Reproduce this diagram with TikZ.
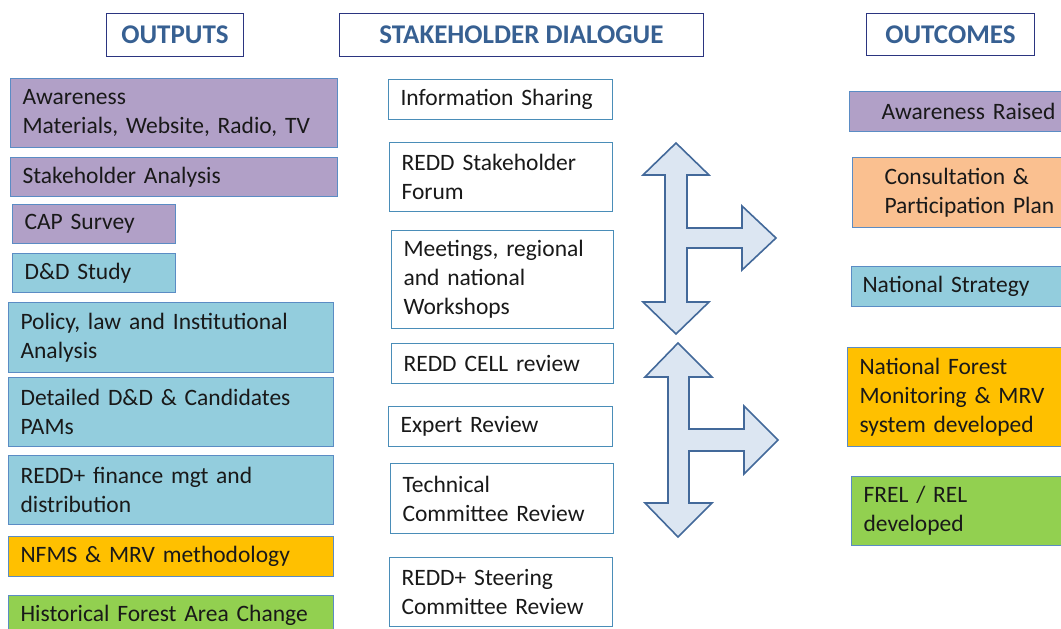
\documentclass[tikz,border=0pt]{standalone}
\usepackage{fontspec}
\setmainfont{Carlito}
\definecolor{hdrtext}{HTML}{376092}
\definecolor{hdrline}{HTML}{2B3580}
\definecolor{boxline}{HTML}{5B8CC4}
\definecolor{midline}{HTML}{4A8DB8}
\definecolor{purp}{HTML}{B1A0C7}
\definecolor{cyanbox}{HTML}{93CDDD}
\definecolor{orangebox}{HTML}{FFC000}
\definecolor{greenbox}{HTML}{92D050}
\definecolor{peachbox}{HTML}{FAC090}
\definecolor{arrfill}{HTML}{DCE6F2}
\definecolor{arrline}{HTML}{43699A}

\begin{document}
\begin{tikzpicture}[x=1pt,y=-1pt,
	hdr/.style={draw=hdrline, line width=0.8pt, text=hdrtext, anchor=north west, inner sep=0pt,
		font=\fontsize{27}{30}\selectfont\bfseries},
	cbox/.style={draw=boxline, line width=1.1pt, anchor=north west, align=left,
		inner xsep=12pt, inner ysep=0pt, text=black!90, font=\fontsize{23.5}{29}\selectfont},
	wbox/.style={cbox, draw=midline, fill=white},
	dlgarrow/.style={draw=arrline, fill=arrfill, line width=1.6pt, line join=miter}]
	\useasboundingbox (0,0) rectangle (1061,629);
	\clip (0,0) rectangle (1061,629);
	% headings
	\node[hdr, minimum width=137pt, minimum height=43pt] (outputs) at (106,13) {OUTPUTS};
	\node[hdr, minimum width=364pt, minimum height=43pt] (dialogue) at (339,13) {STAKEHOLDER DIALOGUE};
	\node[hdr, minimum width=168pt, minimum height=42pt] (outcomes) at (866,13) {OUTCOMES};
	% outputs
	\node[cbox, fill=purp, text width=303pt, minimum height=69pt] (aware) at (10,78) {Awareness\\Materials, Website, Radio,\ TV};
	\node[cbox, fill=purp, text width=303pt, minimum height=39pt] (stkan) at (10,157) {Stakeholder Analysis};
	\node[cbox, fill=purp, text width=139pt, minimum height=39pt] (cap) at (12,204) {CAP Survey};
	\node[cbox, fill=cyanbox, text width=139pt, minimum height=39pt] (ddstudy) at (12,253) {D\&D Study};
	\node[cbox, fill=cyanbox, text width=301pt, minimum height=70pt] (policy) at (8,302) {Policy, law and Institutional\\Analysis};
	\node[cbox, fill=cyanbox, text width=301pt, minimum height=69pt] (pams) at (8,377) {Detailed D\&D \& Candidates\\PAMs};
	\node[cbox, fill=cyanbox, text width=301pt, minimum height=69pt] (finance) at (8,455) {REDD+ finance mgt and\\distribution};
	\node[cbox, fill=orangebox, text width=301pt, minimum height=40pt] (nfms) at (8,536) {NFMS \& MRV methodology};
	\node[cbox, fill=greenbox, text width=301pt, minimum height=40pt] (hist) at (8,595) {Historical Forest Area Change};
	% stakeholder dialogue
	\node[wbox, text width=200pt, minimum height=40pt] (info) at (388,79) {Information Sharing};
	\node[wbox, text width=199pt, minimum height=69pt] (forum) at (389,142) {REDD Stakeholder\\Forum};
	\node[wbox, text width=198pt, minimum height=98pt] (meet) at (391,230) {Meetings, regional\\and national\\Workshops};
	\node[wbox, text width=198pt, minimum height=40pt] (cell) at (391,343) {REDD CELL review};
	\node[wbox, text width=200pt, minimum height=40pt] (expert) at (388,406) {Expert Review};
	\node[wbox, text width=199pt, minimum height=70pt] (tech) at (390,463) {Technical\\Committee Review};
	\node[wbox, text width=199pt, minimum height=69pt] (steer) at (389,557) {REDD+ Steering\\Committee Review};
	% outcomes
	\node[cbox, fill=purp, inner xsep=32pt, text width=196pt, minimum height=40pt] (raised) at (849,91) {Awareness Raised};
	\node[cbox, fill=peachbox, inner xsep=32pt, text width=196pt, minimum height=70pt] (consult) at (852,157) {Consultation \&\\Participation Plan};
	\node[cbox, fill=cyanbox, inner xsep=11pt, text width=238pt, minimum height=40pt] (natstrat) at (851,266) {National Strategy};
	\node[cbox, fill=orangebox, text width=236pt, minimum height=99pt] (nfm) at (847,347) {National Forest\\Monitoring \& MRV\\system developed};
	\node[cbox, fill=greenbox, text width=236pt, minimum height=69pt] (frel) at (851,476) {FREL / REL\\developed};
	% block arrows
	\draw[dlgarrow] (676,143) -- (709,175) -- (687,175) -- (687,228) -- (742,228) -- (742,206) -- (776,238)
		-- (742,270) -- (742,248) -- (687,248) -- (687,302) -- (709,302) -- (676,334) -- (643,302)
		-- (665,302) -- (665,175) -- (643,175) -- cycle;
	\draw[dlgarrow] (678,343) -- (712,377) -- (689,377) -- (689,429) -- (744,429) -- (744,406) -- (778,440)
		-- (744,474) -- (744,451) -- (689,451) -- (689,503) -- (712,503) -- (678,537) -- (645,503)
		-- (668,503) -- (668,377) -- (645,377) -- cycle;
\end{tikzpicture}
\end{document}
